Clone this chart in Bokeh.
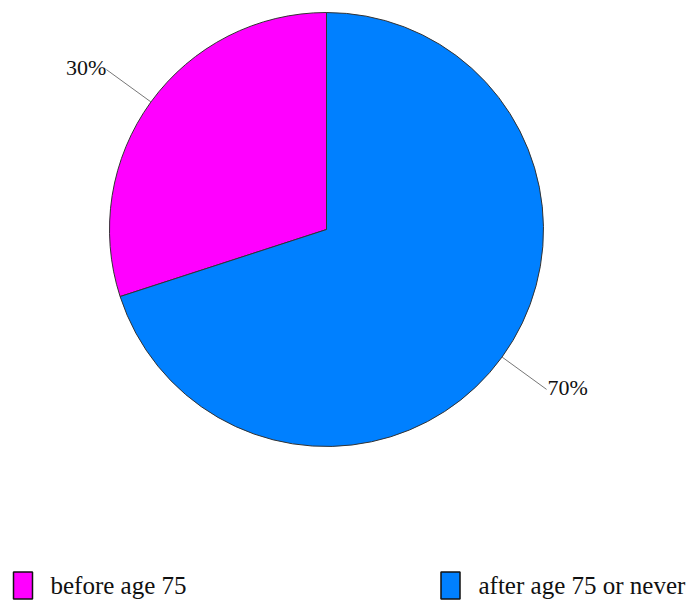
import numpy as np
from bokeh.plotting import figure
from bokeh.models import Range1d, ColumnDataSource
from bokeh.core.properties import value
from bokeh.embed import file_html
from bokeh.resources import INLINE

# ---- data ----
categories = ["before age 75", "after age 75 or never"]
shares = [30, 70]
colors = ["#FF00FF", "#0080FF"]
pct_labels = ["30%", "70%"]

# ---- layout (pixels) ----
W, H = 692, 601
CX, CY = 326, H - 229
R = 217
R_LABEL = 272
FONT = "Liberation Serif"

p = figure(width=W, height=H, x_range=Range1d(0, W), y_range=Range1d(0, H),
           output_backend="svg", toolbar_location=None, min_border=0)
p.axis.visible = False
p.grid.visible = False
p.outline_line_color = None
p.background_fill_color = "white"
p.border_fill_color = "white"

total = float(sum(shares))
fr = np.array(shares) / total
cum = np.concatenate([[0], np.cumsum(fr)])
start = np.pi / 2 + cum[:-1] * 2 * np.pi
end = np.pi / 2 + cum[1:] * 2 * np.pi
mid = (start + end) / 2

src = ColumnDataSource(dict(x=[CX] * len(shares), y=[CY] * len(shares),
                            start=start, end=end, color=colors))
p.wedge(x="x", y="y", radius=R, start_angle="start", end_angle="end",
        direction="anticlock", fill_color="color", line_color="#333333",
        line_width=1, source=src)

# leader lines
x0 = CX + R * np.cos(mid)
y0 = CY + R * np.sin(mid)
x1 = CX + R_LABEL * np.cos(mid)
y1 = CY + R_LABEL * np.sin(mid)
p.segment(x0=x0, y0=y0, x1=x1, y1=y1, line_color="#777777", line_width=1)

# percentage labels
aligns = ["right" if np.cos(m) < 0 else "left" for m in mid]
tx = [xx + (1 if a == "left" else 0) for xx, a in zip(x1, aligns)]
ty = [yy + 2 for yy in y1]
lsrc = ColumnDataSource(dict(x=tx, y=ty, t=pct_labels, a=aligns))
p.text(x="x", y="y", text="t", text_align="a", text_baseline="middle",
       text_font=value(FONT), text_font_size="22px", text_color="#111111",
       source=lsrc)

# legend
leg_x = [22.5, 450]
leg_src = ColumnDataSource(dict(x=leg_x, y=[H - 585] * 2, color=colors))
p.rect(x="x", y="y", width=19, height=27, fill_color="color",
       line_color="#111111", line_width=1.5, source=leg_src)
txt_src = ColumnDataSource(dict(x=[50, 478], y=[H - 585] * 2, t=categories))
p.text(x="x", y="y", text="t", text_align="left", text_baseline="middle",
       text_font=value(FONT), text_font_size="25px", text_color="#111111",
       source=txt_src)

open("out.html", "w").write(file_html(p, INLINE))
